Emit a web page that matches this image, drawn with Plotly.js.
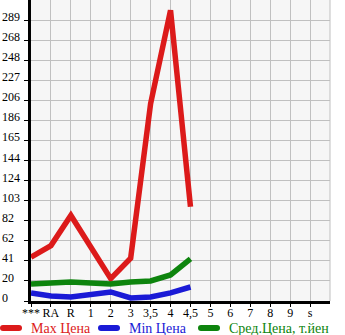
<!DOCTYPE html>
<html><head><meta charset="utf-8">
<script src="https://cdn.plot.ly/plotly-3.0.1.min.js"></script>
<style>html,body{margin:0;padding:0;background:#fff;}#chart{width:345px;height:335px;}</style>
</head><body><div id="chart"></div>
<script>
const categories = ["***","RA","R","1","2","3","3,5","4","4,5","5","6","7","8","9","s"];
const maxPrice = [45, 57, 88, 56, 23, 44, 203, 299, 97];
const minPrice = [8.3, 5.2, 4.1, 6.2, 9.3, 3.1, 4.1, 8.3, 14.4];
const avgPrice = [17.5, 18, 19.6, 18.6, 17.5, 19.6, 20.6, 26.8, 43.3];
const yTickLabels = ["0","20","41","62","82","103","124","144","165","186","206","227","248","268","289"];
const seriesNames = ["Max Цена","Min Цена","Сред.Цена, т.йен"];
const colors = ["#dc1a1a","#1a1ad6","#0d840d"];

const font = "Liberation Serif, DejaVu Serif, serif";
const W = 345, H = 335, ML = 31, MR = 15, MT = 0, MB = 34;
const PW = W - ML - MR, PH = H - MT - MB;
const xs = categories.slice(0, maxPrice.length);
const mk = (y, i) => ({
  x: xs, y: y, type: "scatter", mode: "lines", name: seriesNames[i],
  line: {color: colors[i], width: 5.5, shape: "linear"},
  cliponaxis: false, showlegend: false
});
const traces = [mk(maxPrice,0), mk(minPrice,1), mk(avgPrice,2)];

const step = 289 / 14;
const yvals = yTickLabels.map((_, i) => i * step);
const annotations = yvals.map((v, i) => ({
  x: 0, xref: "paper", xshift: -ML, xanchor: "left",
  y: v, yref: "y", yanchor: "middle", yshift: 3,
  text: yTickLabels[i], showarrow: false,
  font: {family: font, size: 12, color: "#000"}
}));

// manual legend (pixel layout -> paper coords)
const px2x = p => (p - ML) / PW;
const px2y = p => (H - MB - p) / PH;
const legendStarts = [0, 98, 198];
const legendY = 328, symLen = 22, r = 3;
const shapes = [{type: "line", xref: "paper", yref: "paper", x0: 1, x1: 1, y0: 0, y1: 1,
                 line: {color: "#c0c0c0", width: 1}, layer: "below"}];
seriesNames.forEach((name, i) => {
  const a = legendStarts[i] + r, b = legendStarts[i] + symLen - r;
  const t = legendY - r, btm = legendY + r;
  const X = px2x, Y = px2y;
  const path = `M${X(a)},${Y(t)} L${X(b)},${Y(t)} Q${X(b + r)},${Y(t)} ${X(b + r)},${Y(legendY)} ` +
               `Q${X(b + r)},${Y(btm)} ${X(b)},${Y(btm)} L${X(a)},${Y(btm)} ` +
               `Q${X(a - r)},${Y(btm)} ${X(a - r)},${Y(legendY)} Q${X(a - r)},${Y(t)} ${X(a)},${Y(t)} Z`;
  shapes.push({type: "path", xref: "paper", yref: "paper", path: path,
               fillcolor: colors[i], line: {width: 0}});
  annotations.push({
    x: px2x(legendStarts[i] + 29), xref: "paper", xanchor: "left",
    y: px2y(legendY), yref: "paper", yanchor: "middle",
    text: name, showarrow: false,
    font: {family: font, size: 14, color: colors[i]}
  });
});

const layout = {
  width: W, height: H,
  margin: {l: ML, r: MR, t: MT, b: MB, pad: 0, autoexpand: false},
  paper_bgcolor: "#ffffff", plot_bgcolor: "#f6f6f6",
  showlegend: false,
  xaxis: {
    type: "category", categoryorder: "array", categoryarray: categories,
    range: [0, 15], fixedrange: true, tickangle: 0, automargin: false,
    showgrid: true, gridcolor: "#c0c0c0", gridwidth: 1,
    showline: true, linecolor: "#000", linewidth: 3,
    ticks: "outside", ticklen: 3, tickcolor: "#000", tickwidth: 1,
    ticklabelstandoff: -4,
    tickfont: {family: font, size: 12, color: "#000"},
    zeroline: false
  },
  yaxis: {
    range: [0, 309.6], fixedrange: true, automargin: false,
    tickvals: yvals, showticklabels: false,
    showgrid: true, gridcolor: "#c0c0c0", gridwidth: 1,
    showline: true, linecolor: "#000", linewidth: 3,
    ticks: "outside", ticklen: 4, tickcolor: "#000", tickwidth: 1,
    zeroline: false
  },
  shapes: shapes,
  annotations: annotations
};
Plotly.newPlot("chart", traces, layout, {displayModeBar: false, staticPlot: true});
</script></body></html>
